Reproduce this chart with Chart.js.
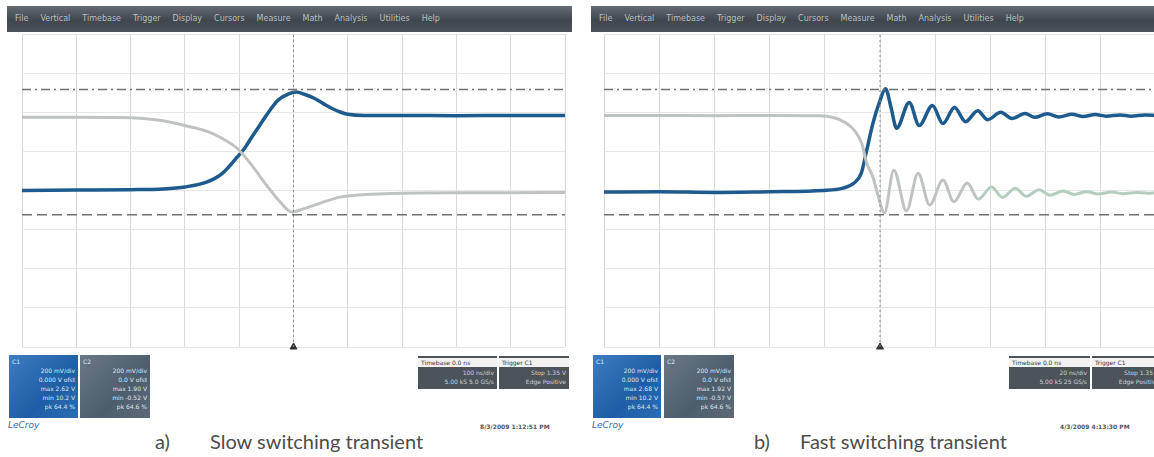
<!DOCTYPE html>
<html>
<head>
<meta charset="utf-8">
<title>Switching transients</title>
<script src="https://cdn.jsdelivr.net/npm/chart.js@4.4.1/dist/chart.umd.min.js"></script>
<style>
  body { margin: 0; background: #fff; width: 1154px; height: 457px; overflow: hidden; position: relative; font-family: "DejaVu Sans", sans-serif; }
  .menu { position: absolute; top: 6px; height: 26px; background: linear-gradient(#646b72, #3f464d 55%, #4b5258); color: #b9bec4; font-size: 8px; line-height: 26px; white-space: nowrap; overflow: hidden; padding-left: 8px; box-sizing: border-box; }
  .menu span { margin-right: 12px; }
  canvas { position: absolute; }
  .box { position: absolute; font-size: 6px; line-height: 9px; color: #dfe8f2; box-sizing: border-box; padding: 2px 3px; text-align: right; }
  .box .h { text-align: left; }
  .blue { background: linear-gradient(135deg, #3c7cc0, #1f5ea6 60%, #2b6cb2); }
  .slate { background: linear-gradient(135deg, #6a7886, #4e5d6c 60%, #5c6a78); }
  .dark { background: #4c5359; color: #d0d4d8; }
  .dark .h { background: #f2f2f2; color: #333; margin: 0 -3px 1px; padding: 0 3px; }
  .lecroy { position: absolute; top: 420px; font: italic 9px "DejaVu Sans", sans-serif; color: #3d6aa6; }
  .stamp { position: absolute; top: 423px; font: bold 6px "DejaVu Sans", sans-serif; color: #555; }
  .cap { position: absolute; top: 429px; font: 20px Lato, "Open Sans", sans-serif; color: #4d4d4d; }
</style>
</head>
<body>
<div class="menu" style="left:7px; width:565px;">
  <span>File</span><span>Vertical</span><span>Timebase</span><span>Trigger</span><span>Display</span><span>Cursors</span><span>Measure</span><span>Math</span><span>Analysis</span><span>Utilities</span><span>Help</span>
</div>
<div class="menu" style="left:591px; width:563px;">
  <span>File</span><span>Vertical</span><span>Timebase</span><span>Trigger</span><span>Display</span><span>Cursors</span><span>Measure</span><span>Math</span><span>Analysis</span><span>Utilities</span><span>Help</span>
</div>

<canvas id="slow" width="553" height="323" style="left:17px; top:29px;"></canvas>
<canvas id="fast" width="562" height="323" style="left:599px; top:29px;"></canvas>

<div class="box blue" style="left:9px; top:355px; width:69px; height:63px;">
  <div class="h">C1</div><div>200 mV/div</div><div>0.000 V ofst</div><div>max 2.62 V</div><div>min 10.2 V</div><div>pk 64.4 %</div>
</div>
<div class="box slate" style="left:80px; top:355px; width:70px; height:63px;">
  <div class="h">C2</div><div>200 mV/div</div><div>0.0 V ofst</div><div>max 1.90 V</div><div>min -0.52 V</div><div>pk 64.6 %</div>
</div>
<div class="box dark" style="left:418px; top:356px; width:79px; height:33px;">
  <div class="h">Timebase 0.0 ns</div><div>100 ns/div</div><div>5.00 kS 5.0 GS/s</div>
</div>
<div class="box dark" style="left:499px; top:356px; width:70px; height:33px;">
  <div class="h">Trigger C1</div><div>Stop 1.35 V</div><div>Edge Positive</div>
</div>
<div class="lecroy" style="left:8px;">LeCroy</div>
<div class="stamp" style="left:480px;">8/3/2009 1:12:51 PM</div>
<div class="cap" style="left:155px;">a)</div>
<div class="cap" style="left:210px;">Slow switching transient</div>

<div class="box blue" style="left:593px; top:355px; width:68px; height:63px;">
  <div class="h">C1</div><div>200 mV/div</div><div>0.000 V ofst</div><div>max 2.68 V</div><div>min 10.2 V</div><div>pk 64.4 %</div>
</div>
<div class="box slate" style="left:664px; top:355px; width:70px; height:63px;">
  <div class="h">C2</div><div>200 mV/div</div><div>0.0 V ofst</div><div>max 1.92 V</div><div>min -0.57 V</div><div>pk 64.6 %</div>
</div>
<div class="box dark" style="left:1009px; top:356px; width:81px; height:33px;">
  <div class="h">Timebase 0.0 ns</div><div>20 ns/div</div><div>5.00 kS 25 GS/s</div>
</div>
<div class="box dark" style="left:1092px; top:356px; width:70px; height:33px;">
  <div class="h">Trigger C1</div><div>Stop 1.35 V</div><div>Edge Positive</div>
</div>
<div class="lecroy" style="left:592px;">LeCroy</div>
<div class="stamp" style="left:1060px;">4/3/2009 4:13:30 PM</div>
<div class="cap" style="left:754px;">b)</div>
<div class="cap" style="left:800px;">Fast switching transient</div>

<script>
// time in screen divisions (0..10), level in divisions (-4..4, 0 = ground marker)
const slowBlueT = [0, 1, 2, 2.6, 3.0, 3.41, 3.69, 3.96, 4.1, 4.23, 4.37, 4.5, 4.71, 4.91, 5.05, 5.2, 5.39, 5.55, 5.72, 5.87, 6.0, 6.3, 7, 8, 9, 10];
const slowBlueV = [0, 0.01, 0.02, 0.04, 0.09, 0.22, 0.44, 0.85, 1.08, 1.36, 1.65, 1.92, 2.30, 2.47, 2.52, 2.46, 2.35, 2.22, 2.09, 2.0, 1.95, 1.92, 1.92, 1.91, 1.92, 1.92];
const slowGrayT = [0, 1, 2, 2.5, 3.0, 3.41, 3.69, 3.96, 4.23, 4.5, 4.77, 4.97, 5.18, 5.52, 5.86, 6.27, 7, 8, 9, 10];
const slowGrayV = [1.87, 1.87, 1.86, 1.8, 1.66, 1.51, 1.33, 1.08, 0.65, 0.14, -0.32, -0.55, -0.47, -0.31, -0.17, -0.11, -0.07, -0.06, -0.06, -0.05];

const fastBlueT = [0, 1, 2, 3, 3.98, 4.33, 4.53, 4.66, 4.76, 4.87, 5.0, 5.1, 5.2, 5.3, 5.53, 5.71, 5.95, 6.14, 6.35, 6.55, 6.77, 6.95, 7.19, 7.39, 7.63, 7.8, 8.03, 8.24, 8.48, 8.68, 8.9, 9.1, 9.35, 9.55, 9.8, 10];
const fastBlueV = [-0.04, -0.03, -0.05, -0.03, 0, 0.06, 0.19, 0.44, 1.03, 1.71, 2.3, 2.6, 2.12, 1.59, 2.25, 1.66, 2.17, 1.71, 2.12, 1.76, 2.04, 1.81, 2.0, 1.84, 1.97, 1.87, 1.96, 1.88, 1.95, 1.89, 1.94, 1.9, 1.93, 1.9, 1.93, 1.92];
const fastGrayT = [0, 1, 2, 3, 3.9, 4.17, 4.37, 4.54, 4.67, 4.76, 4.87, 4.97, 5.08, 5.25, 5.48, 5.69, 5.9, 6.14, 6.34, 6.58, 6.78, 7.02, 7.22, 7.45, 7.65, 7.88, 8.08, 8.32, 8.52, 8.75, 8.95, 9.2, 9.4, 9.65, 9.85, 10];
const fastGrayV = [1.92, 1.92, 1.91, 1.92, 1.91, 1.86, 1.74, 1.53, 1.2, 0.7, 0.35, -0.16, -0.57, 0.52, -0.52, 0.44, -0.37, 0.27, -0.29, 0.19, -0.22, 0.09, -0.18, 0.06, -0.15, 0.02, -0.12, -0.01, -0.1, -0.03, -0.09, -0.04, -0.08, -0.05, -0.07, -0.06];

const dashDotLevel = 2.58;
const dashedLevel = -0.62;
const triggerTime = 5;

const zip = (t, v) => t.map((x, i) => ({ x, y: v[i] }));

function makeScope(canvasId, blueT, blueV, grayT, grayV, greenFrom) {
  new Chart(document.getElementById(canvasId), {
    type: "line",
    data: {
      datasets: [
        {
          data: [{ x: 0, y: dashDotLevel }, { x: 10, y: dashDotLevel }],
          borderColor: "#707070", borderWidth: 1.5, borderDash: [9, 4, 2, 4],
        },
        {
          data: [{ x: 0, y: dashedLevel }, { x: 10, y: dashedLevel }],
          borderColor: "#707070", borderWidth: 1.5, borderDash: [10, 5],
        },
        {
          data: [{ x: triggerTime, y: -4 }, { x: triggerTime, y: 4 }],
          borderColor: "#8a8a8a", borderWidth: 1, borderDash: [2, 3],
        },
        {
          data: zip(grayT, grayV),
          borderColor: "#bfc3bf", borderWidth: 3,
          cubicInterpolationMode: "monotone",
          segment: {
            borderColor: (ctx) => (ctx.p0.parsed.x >= greenFrom ? "#b4cdbf" : undefined),
          },
        },
        {
          data: zip(blueT, blueV),
          borderColor: "#1d5a8e", borderWidth: 3.5,
          cubicInterpolationMode: "monotone",
        },
        {
          type: "scatter",
          data: [{ x: triggerTime, y: -4 }],
          pointStyle: "triangle", pointRadius: 4, backgroundColor: "#333", borderColor: "#333",
          clip: false,
        },
      ],
    },
    options: {
      responsive: false,
      animation: false,
      devicePixelRatio: 1,
      layout: { padding: 4 },
      elements: { point: { radius: 0 } },
      plugins: { legend: { display: false }, tooltip: { enabled: false } },
      scales: {
        x: {
          type: "linear", min: 0, max: 10,
          ticks: { display: false, stepSize: 1 },
          grid: { color: "#d9d9d9", drawTicks: false },
          border: { display: false },
        },
        y: {
          type: "linear", min: -4, max: 4,
          ticks: { display: false, stepSize: 1 },
          grid: { color: "#e6e6e6", drawTicks: false },
          border: { display: false },
        },
      },
    },
  });
}

makeScope("slow", slowBlueT, slowBlueV, slowGrayT, slowGrayV, 99);
makeScope("fast", fastBlueT, fastBlueV, fastGrayT, fastGrayV, 6.6);
</script>
</body>
</html>
